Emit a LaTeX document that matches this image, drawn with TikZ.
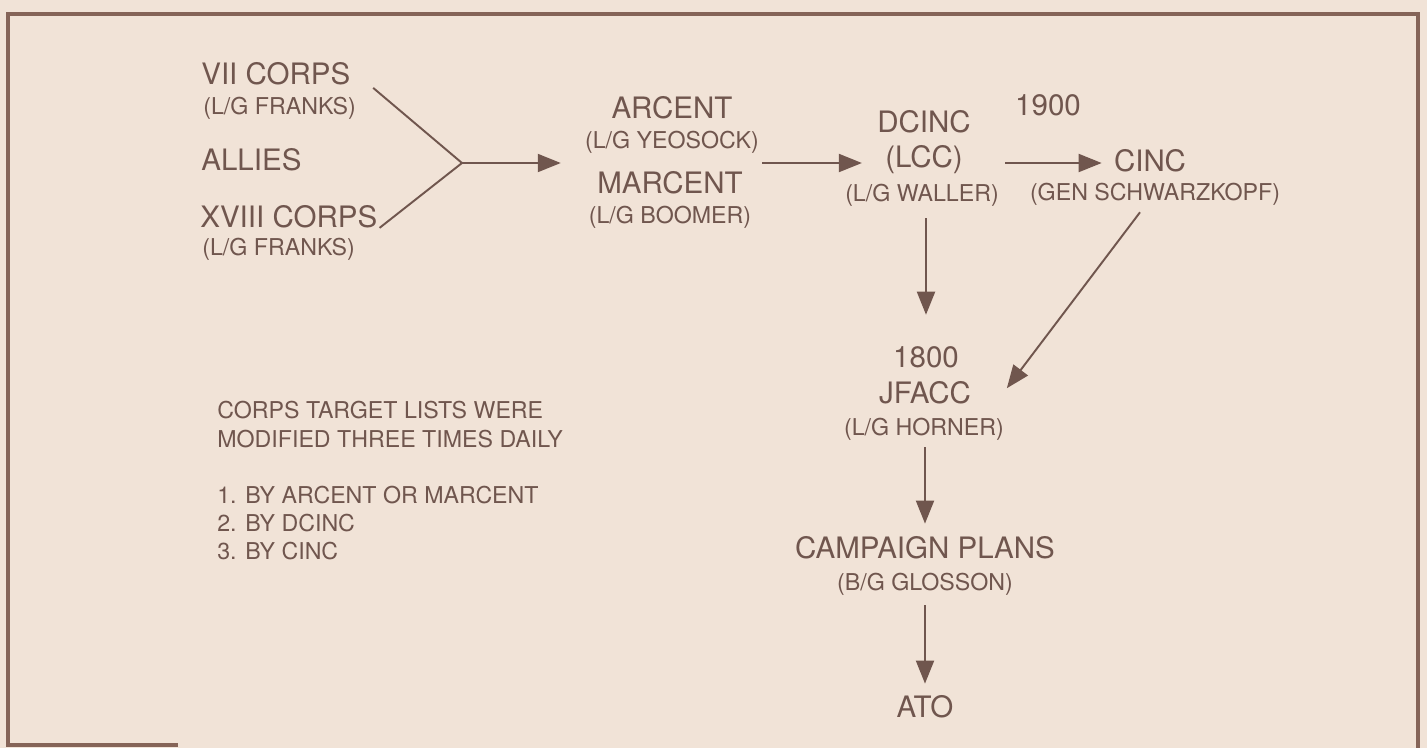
\documentclass[tikz,border=0pt]{standalone}
\usepackage{fontspec}
\setmainfont{TeX Gyre Heros}
\usetikzlibrary{arrows.meta}

\definecolor{paper}{RGB}{241,227,215}
\definecolor{ink}{RGB}{112,86,78}
\definecolor{rule}{RGB}{133,100,88}
\newcommand{\bigsize}{\fontsize{16.8}{20}\selectfont}
\newcommand{\smallsize}{\fontsize{13.2}{16}\selectfont}

\begin{document}
\begin{tikzpicture}[x=0.02cm,y=-0.02cm,
    unit/.style={font=\bigsize,text=ink,inner sep=0pt,anchor=base},
    rank/.style={font=\smallsize,text=ink,inner sep=0pt,anchor=base},
    link/.style={draw=ink,line width=1.1pt},
    flow/.style={link,-{Triangle[length=0.46cm,width=0.36cm]}}]
  % Paper and frame (bottom edge only partly shown).
  \fill[paper] (0,0) rectangle (1427,748);
  \useasboundingbox (0,0) rectangle (1427,748);
  \draw[rule,line width=2.8pt] (178,745) -- (8,745) -- (8,14) -- (1418,14) -- (1418,748);

  % Corps on the left.
  \node[unit,anchor=base west] (vii) at (201,84) {VII CORPS};
  \node[rank,anchor=base west] (viiname) at (203,114) {(L/G FRANKS)};
  \node[unit,anchor=base west] (allies) at (201,170) {ALLIES};
  \node[unit,anchor=base west] (xviii) at (200,227) {XVIII CORPS};
  \node[rank,anchor=base west] (xviiiname) at (202,255) {(L/G FRANKS)};
  \coordinate (join) at (462,163);

  % Component commands.
  \node[unit] (arcent) at (672,118) {ARCENT};
  \node[rank] (yeosock) at (672,148) {(L/G YEOSOCK)};
  \node[unit] (marcent) at (670,193) {MARCENT};
  \node[rank] (boomer) at (670,223) {(L/G BOOMER)};

  % DCINC and CINC.
  \node[unit] (dcinc) at (924,132) {DCINC};
  \node[unit] (lcc) at (924,167) {(LCC)};
  \node[rank] (waller) at (922,201) {(L/G WALLER)};
  \node[unit] (t1900) at (1048,115) {1900};
  \node[unit] (cinc) at (1150,171) {CINC};
  \node[rank] (schw) at (1155,200) {(GEN SCHWARZKOPF)};

  % Air side down to the ATO.
  \node[unit] (t1800) at (926,367) {1800};
  \node[unit] (jfacc) at (925,403) {JFACC};
  \node[rank] (horner) at (924,435) {(L/G HORNER)};
  \node[unit] (campaign) at (925,558) {CAMPAIGN PLANS};
  \node[rank] (glosson) at (925,590) {(B/G GLOSSON)};
  \node[unit] (ato) at (925,717) {ATO};

  % Note on target lists.
  \foreach \y/\txt [count=\i] in {418/CORPS TARGET LISTS WERE,447/MODIFIED THREE TIMES DAILY,503/1. BY ARCENT OR MARCENT,531/2. BY DCINC,559/3. BY CINC}
    \node[rank,anchor=base west] (note\i) at (217,\y) {\txt};

  % Connectors.
  \draw[link] ([xshift=0.45cm,yshift=-0.06cm]vii.south east) -- (join);
  \draw[link] ([xshift=0.04cm]xviii.south east) -- (join);
  \draw[flow,shorten >=0.48cm] (join) -- (yeosock.west |- join);
  \draw[flow,shorten <=0.06cm,shorten >=0.46cm] (yeosock.east |- join) -- (lcc.west |- join);
  \draw[flow,shorten <=0.12cm,shorten >=0.24cm] (waller.east |- join) -- (cinc.west |- join);
  \draw[flow,shorten <=0.24cm,shorten >=0.62cm] (t1800 |- waller.south) -- (t1800.north);
  \draw[flow] ([xshift=-0.3cm,yshift=-0.14cm]schw.south) -- ([xshift=0.71cm,yshift=0.08cm]jfacc.east);
  \draw[flow,shorten <=0.14cm,shorten >=0.24cm] (campaign |- horner.south) -- (campaign.north);
  \draw[flow,shorten <=0.2cm,shorten >=0.22cm] (ato |- glosson.south) -- (ato.north);
\end{tikzpicture}
\end{document}
